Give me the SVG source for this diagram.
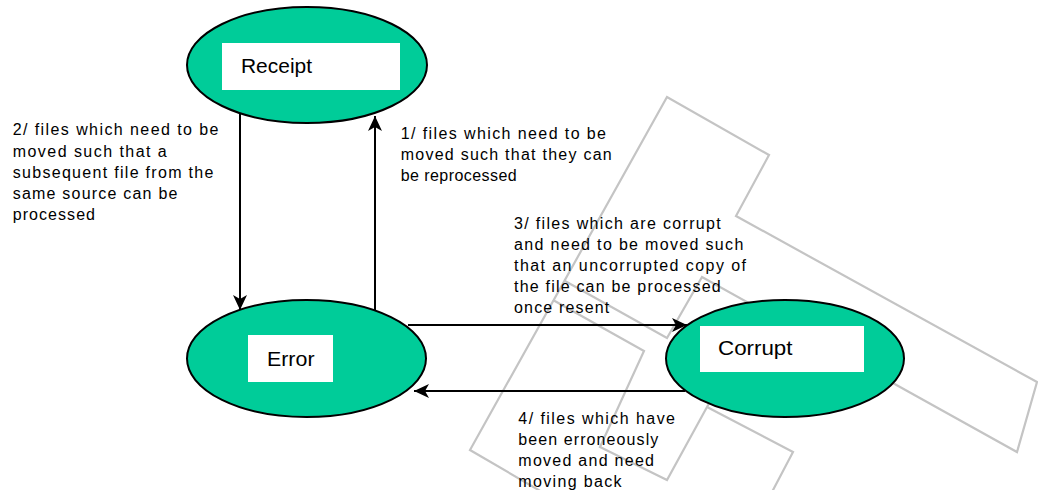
<svg xmlns="http://www.w3.org/2000/svg" width="1038" height="490" viewBox="0 0 1038 490">
<defs>
<style>
.wm{fill:none;stroke:#c4c4c4;stroke-width:2.2;stroke-linejoin:miter}
.node{fill:#00cc99;stroke:#000;stroke-width:2}
.box{fill:#fff;stroke:none}
.lbl{font-family:"Liberation Sans",Arial,sans-serif;font-size:21px;fill:#000}
.t{font-family:"Liberation Sans",Arial,sans-serif;font-size:16px;fill:#000}
.edge{fill:none;stroke:#000;stroke-width:2}
</style>
<marker id="ah" markerUnits="userSpaceOnUse" markerWidth="16" markerHeight="14" refX="15" refY="7" orient="auto">
<path d="M0,0 L15,7 L0,14 L4,7 Z" fill="#000"/>
</marker>
</defs>
<rect width="1038" height="490" fill="#fff"/>
<g id="watermark">
<polyline class="wm" points="542,492 470,450 667,97 769,155 736,216 1037,382 1017,452 702,277 667,338 565,281"/>
<polyline class="wm" points="553,300 644,351 600,447 667,480 707,407 761,310"/>
<polyline class="wm" points="707,407 793,452 772,492"/>
</g>
<g id="receipt">
<ellipse class="node" cx="307" cy="65" rx="120" ry="58"/>
<rect class="box" x="222" y="43" width="178" height="47"/>
<text class="lbl" x="241" y="73" textLength="71" lengthAdjust="spacingAndGlyphs">Receipt</text>
</g>
<g id="error">
<ellipse class="node" cx="306.5" cy="358.5" rx="119.5" ry="58.5"/>
<rect class="box" x="248" y="335" width="85" height="47"/>
<text class="lbl" x="267" y="366" textLength="47.5" lengthAdjust="spacingAndGlyphs">Error</text>
</g>
<g id="corrupt">
<ellipse class="node" cx="785" cy="358.5" rx="119" ry="58.5"/>
<rect class="box" x="700" y="326" width="164" height="46"/>
<text class="lbl" x="718" y="355" textLength="74.5" lengthAdjust="spacingAndGlyphs">Corrupt</text>
</g>
<g id="connectors">
<line class="edge" x1="240" y1="114" x2="240" y2="310" marker-end="url(#ah)"/>
<line class="edge" x1="375" y1="310" x2="375" y2="116" marker-end="url(#ah)"/>
<line class="edge" x1="408" y1="325" x2="687" y2="325" marker-end="url(#ah)"/>
<line class="edge" x1="685" y1="391" x2="414" y2="391" marker-end="url(#ah)"/>
</g>
<g id="labels">
<text class="t" x="12.7" y="135" textLength="205.7" lengthAdjust="spacing">2/ files which need to be</text>
<text class="t" x="12.7" y="156.5" textLength="154" lengthAdjust="spacing">moved such that a</text>
<text class="t" x="12.7" y="177.5" textLength="200.7" lengthAdjust="spacing">subsequent file from the</text>
<text class="t" x="12.7" y="198.5" textLength="164.7" lengthAdjust="spacing">same source can be</text>
<text class="t" x="12.7" y="220" textLength="82.3" lengthAdjust="spacing">processed</text>
<text class="t" x="400.7" y="138.5" textLength="205.3" lengthAdjust="spacing">1/ files which need to be</text>
<text class="t" x="400.7" y="160" textLength="211" lengthAdjust="spacing">moved such that they can</text>
<text class="t" x="400.7" y="181" textLength="116" lengthAdjust="spacing">be reprocessed</text>
<text class="t" x="514" y="228.5" textLength="206.7" lengthAdjust="spacing">3/ files which are corrupt</text>
<text class="t" x="514" y="249.5" textLength="229.3" lengthAdjust="spacing">and need to be moved such</text>
<text class="t" x="514" y="270.5" textLength="232" lengthAdjust="spacing">that an uncorrupted copy of</text>
<text class="t" x="514" y="291.5" textLength="206.7" lengthAdjust="spacing">the file can be processed</text>
<text class="t" x="514" y="312.5" textLength="95.3" lengthAdjust="spacing">once resent</text>
<text class="t" x="518.3" y="423.5" textLength="156.7" lengthAdjust="spacing">4/ files which have</text>
<text class="t" x="518.3" y="445" textLength="140" lengthAdjust="spacing">been erroneously</text>
<text class="t" x="518.3" y="466" textLength="135.7" lengthAdjust="spacing">moved and need</text>
<text class="t" x="518.3" y="487" textLength="103.3" lengthAdjust="spacing">moving back</text>
</g>
</svg>
